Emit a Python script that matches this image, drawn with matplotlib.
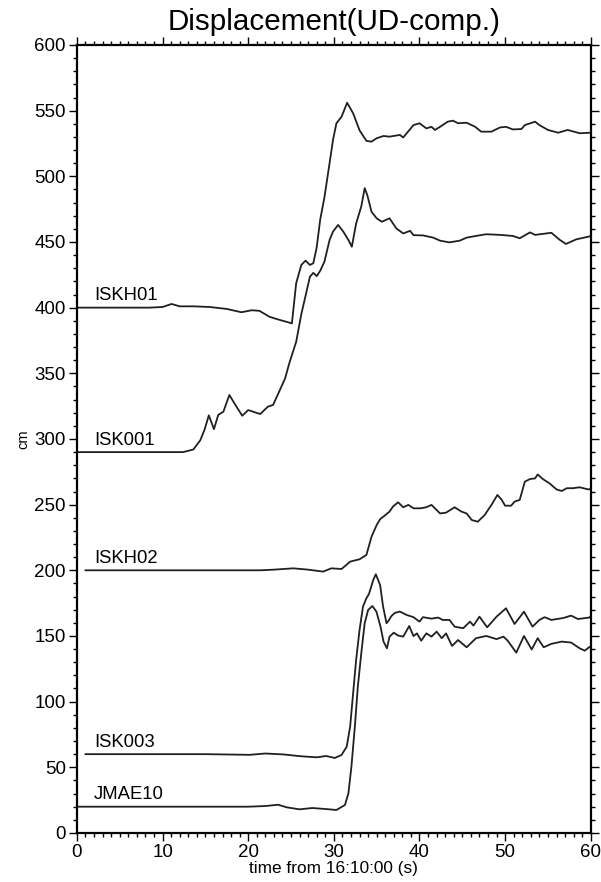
import matplotlib
matplotlib.use("Agg")
import matplotlib.pyplot as plt
from matplotlib.ticker import MultipleLocator

plt.rcParams["font.family"] = ["Liberation Sans", "DejaVu Sans"]

# station traces (time in s, displacement in cm)
iskh01_t = [0, 8.5, 10, 11.05, 12, 13.6, 15.5, 17.5, 19.2, 20.4, 21.3, 22.5, 23.7, 24.8, 25.1, 25.6,
            26.2, 26.7, 27.2, 27.6, 28.0, 28.4, 28.9, 29.5, 29.9, 30.3, 30.9, 31.55, 32.25, 33.0, 33.8,
            34.4, 35.0, 35.8, 36.5, 37.7, 38.1, 39.3, 40.0, 40.8, 41.4, 41.8, 42.4, 43.3, 43.9, 44.5,
            45.5, 46.5, 47.2, 48.4, 49.4, 50.1, 50.9, 51.9, 52.3, 53.5, 54.0, 55.0, 56.2, 57.3, 58.7, 60.0]
iskh01_v = [400, 400, 400.5, 402.8, 401, 401, 400.5, 399, 396.5, 398, 397.6, 393, 390.6, 388.6, 388, 418.6,
            432.5, 435.8, 432.5, 433.8, 446, 466.8, 484, 510, 527.7, 540.4, 545.4, 556, 548, 535, 527,
            526.4, 529, 530.7, 530.2, 531.5, 529.6, 539, 540.4, 536.5, 537.7, 535.3, 537.7, 541.6, 542.4, 540.4,
            540.8, 537.7, 534, 534, 537.2, 537.7, 535.7, 536, 539, 541.6, 539, 535.3, 533.2, 535.3, 532.8, 533.2]

isk001_t = [0, 12.4, 13.6, 14.4, 14.9, 15.4, 16.0, 16.5, 17.1, 17.8, 18.4, 19.3, 20.0, 21.4, 22.3, 22.9,
            23.7, 24.3, 24.8, 25.6, 26.2, 26.8, 27.2, 27.6, 28.0, 28.4, 28.9, 29.5, 29.9, 30.5, 31.1, 31.7,
            32.1, 32.6, 33.2, 33.6, 33.9, 34.4, 35.0, 35.6, 36.5, 37.3, 38.1, 38.9, 39.3, 40.4, 41.6, 42.4,
            43.5, 44.7, 45.5, 46.6, 47.8, 49.4, 50.9, 51.7, 52.9, 53.5, 55.4, 56.4, 57.1, 58.3, 59.7, 60]
isk001_v = [290, 290, 292, 299, 307, 318, 307.5, 318.3, 320.8, 333.5, 327, 317.7, 322, 319, 324.6, 325.9,
            337.3, 346, 357.7, 374, 395, 412, 423.5, 426.5, 424, 428, 435, 451.5, 457.9, 463, 457.9, 451.5,
            446.4, 464, 477, 491, 485.8, 473, 468, 465.4, 468, 460.3, 456.5, 458.5, 455.2, 455, 453.3, 451,
            449.7, 451, 453.3, 454.6, 455.9, 455.4, 454.6, 452.8, 457.3, 455.4, 457, 451.5, 448.5, 452, 454, 454.5]

iskh02_t = [1.0, 21.4, 23.0, 25.25, 27.0, 28.75, 29.7, 30.9, 31.9, 33.0, 33.8, 34.4, 35.0, 35.4, 36.0,
            36.5, 36.9, 37.5, 38.1, 38.7, 39.3, 40.1, 40.8, 41.4, 42.4, 43.1, 44.1, 44.9, 45.5, 46.1, 46.8,
            47.6, 48.4, 49.1, 49.6, 50.0, 50.7, 51.1, 51.7, 52.3, 52.9, 53.5, 53.8, 54.4, 55.2, 56.0, 56.6,
            57.2, 57.9, 58.7, 59.7, 60]
iskh02_v = [200, 200, 200.5, 201.5, 200.5, 199, 201.5, 201, 206.6, 208.4, 211.7, 225.6, 234.5, 238.9, 242,
            244.7, 248.5, 251.8, 248, 249.8, 247.2, 247.2, 248, 249.8, 243.3, 243.9, 248, 244.7, 243.3, 238.3, 237,
            242, 249.8, 257.4, 253.6, 249.2, 249.2, 252.3, 253.6, 267.5, 269.5, 270, 273, 269.5, 266.1, 261.6, 260.4,
            262.5, 262.5, 263.2, 261.6, 262]

isk003_t = [1.0, 15, 20.2, 22, 24.1, 26, 26.8, 28.0, 29.1, 30.1, 30.9, 31.5, 31.9, 32.25, 32.6, 33.0,
            33.4, 33.8, 34.1, 34.6, 34.9, 35.4, 35.75, 36.15, 36.45, 36.7, 37.1, 37.7, 38.5, 39.3, 40.0,
            40.4, 41.4, 42.2, 42.7, 43.5, 44.1, 45.1, 45.9, 46.3, 47.0, 47.9, 49.0, 50.1, 51.1, 52.2, 53.2,
            54.0, 54.6, 55.4, 56.8, 57.7, 58.5, 59.8, 60]
isk003_v = [60, 60, 59.5, 60.5, 59.8, 58.5, 58.1, 57.6, 58.6, 57.1, 59.4, 65.7, 80.9, 106.4, 131.7, 154.6,
            172.3, 178.7, 182, 192.6, 197, 188.8, 172.3, 159.7, 162.2, 165, 167.5, 168.6, 166, 164.3, 160.9,
            164.3, 163.2, 164, 162.2, 162.2, 157.1, 155.9, 160.9, 157.9, 164.7, 156.6, 164.7, 171.1, 159.1, 168.5, 157.1,
            162.2, 164.3, 162.2, 163.7, 165.5, 162.9, 164, 165]

jmae10_t = [0, 20, 22, 23.5, 24.5, 26.0, 27.5, 29.1, 30.3, 31.3, 31.7, 32.05, 32.45, 32.8, 33.2, 33.6,
            34.0, 34.5, 34.97, 35.45, 35.8, 36.2, 36.5, 37.0, 37.5, 38.1, 38.8, 39.3, 39.7, 40.2, 40.8,
            41.4, 42.0, 42.6, 43.1, 43.8, 44.5, 45.5, 46.6, 47.8, 49.0, 49.8, 50.3, 51.3, 52.2, 53.1, 53.8,
            54.5, 55.4, 56.6, 57.7, 58.7, 59.3, 59.8, 60]
jmae10_v = [20, 20, 20.5, 21.5, 19.5, 18, 19, 18.2, 17.5, 21.3, 30.2, 50.5, 80.9, 111.4, 136.8, 159.7,
            169.8, 172.8, 168.5, 157.1, 145.7, 140.6, 149.5, 152.5, 150.3, 149.5, 157.6, 149.9, 152, 146.4, 152,
            149.5, 153.3, 148.3, 152, 142.4, 146.9, 141.4, 148.3, 150, 147.6, 149.5, 146.4, 137.3, 150, 139.7, 148.3,
            141.4, 144, 145.7, 145, 140.6, 138.8, 141.4, 142]

stations = ["ISKH01", "ISK001", "ISKH02", "ISK003", "JMAE10"]
baselines = [400, 290, 200, 60, 20]
traces = [(iskh01_t, iskh01_v), (isk001_t, isk001_v), (iskh02_t, iskh02_v),
          (isk003_t, isk003_v), (jmae10_t, jmae10_v)]

fig = plt.figure(figsize=(6.01, 8.82), dpi=100)
ax = fig.add_axes([0.128, 0.0556, 0.855, 0.8934])

for name, base, (t, v) in zip(stations, baselines, traces):
    ax.plot(t, v, color="#202020", linewidth=1.3)
    ax.text(2.0, base + 5.5, name, fontsize=13.3, va="baseline", ha="left")

ax.set_xlim(0, 60)
ax.set_ylim(0, 600)
ax.xaxis.set_major_locator(MultipleLocator(10))
ax.xaxis.set_minor_locator(MultipleLocator(1))
ax.yaxis.set_major_locator(MultipleLocator(50))
ax.yaxis.set_minor_locator(MultipleLocator(10))
ax.tick_params(which="both", direction="out", top=True, right=True, width=1.0)
ax.tick_params(which="major", length=6, labelsize=13.5, pad=2)
ax.tick_params(which="minor", length=3)
for s in ax.spines.values():
    s.set_linewidth(1.6)

ax.set_xlabel("time from 16:10:00 (s)", fontsize=12.4, labelpad=0)
ax.set_ylabel("cm", fontsize=10.5, labelpad=3)
ax.set_title("Displacement(UD-comp.)", fontsize=21.3, pad=11)

fig.savefig("out.png", dpi=100)
plt.close(fig)
